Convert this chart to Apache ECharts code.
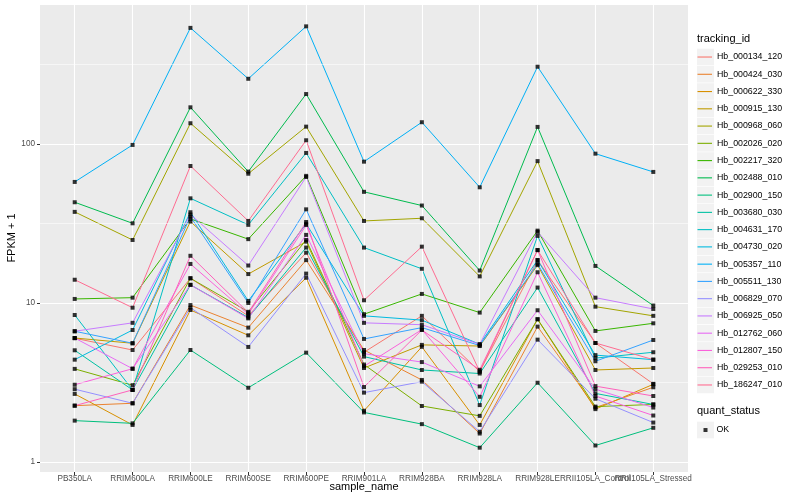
<!DOCTYPE html>
<html><head><meta charset="utf-8">
<script src="https://cdn.jsdelivr.net/npm/echarts@6/dist/echarts.min.js"></script>
<style>html,body{margin:0;padding:0;background:#fff}#c{width:800px;height:500px}</style>
</head><body><div id="c"></div>
<script>
const categories = ['PB350LA','RRIM600LA','RRIM600LE','RRIM600SE','RRIM600PE','RRIM901LA','RRIM928BA','RRIM928LA','RRIM928LE','RRII105LA_Control','RRII105LA_Stressed'];
const trackingIds = ['Hb_000134_120','Hb_000424_030','Hb_000622_330','Hb_000915_130','Hb_000968_060','Hb_002026_020','Hb_002217_320','Hb_002488_010','Hb_002900_150','Hb_003680_030','Hb_004631_170','Hb_004730_020','Hb_005357_110','Hb_005511_130','Hb_006829_070','Hb_006925_050','Hb_012762_060','Hb_012807_150','Hb_029253_010','Hb_186247_010'];

const hb_000134_120 = [6.0, 5.06, 14.3, 8.3, 20.7, 4.9, 8.3, 3.7, 18.6, 5.6, 3.1];
const hb_000424_030 = [2.26, 2.34, 9.7, 7.0, 18.6, 5.06, 3.28, 1.51, 7.1, 2.2, 2.95];
const hb_000622_330 = [2.68, 1.71, 9.03, 6.26, 14.4, 2.1, 5.3, 1.71, 7.9, 2.15, 3.08];
const hb_000915_130 = [6.02, 5.58, 32.5, 15.2, 24.3, 3.9, 5.45, 5.36, 17.3, 3.79, 3.9];
const hb_000968_060 = [37.4, 24.9, 135, 65, 128.5, 32.8, 34.1, 14.7, 78, 9.48, 8.3];
const hb_002026_020 = [3.85, 3.04, 14.3, 8.8, 24.9, 4.1, 2.25, 1.95, 7.9, 2.23, 2.3];
const hb_002217_320 = [10.6, 10.8, 33.8, 25.2, 63, 8.5, 11.4, 8.7, 28.5, 6.67, 7.45];
const hb_002488_010 = [43, 31.7, 170, 67, 206, 50, 41, 16, 128, 17.1, 9.63];
const hb_002900_150 = [1.82, 1.75, 5.06, 2.93, 4.87, 2.05, 1.73, 1.23, 3.15, 1.27, 1.64];
const hb_003680_030 = [5.04, 2.84, 13.0, 8.1, 22.3, 4.6, 3.79, 3.6, 12.5, 2.7, 2.3];
const hb_004631_170 = [8.4, 2.84, 45.5, 31, 87.8, 22.3, 16.4, 2.28, 26.4, 4.5, 4.9];
const hb_004730_020 = [4.4, 6.76, 37.2, 10.3, 31.5, 8.3, 7.8, 5.5, 18.6, 4.7, 4.4];
const hb_005357_110 = [57.7, 98.6, 537, 257, 549, 77.4, 137, 53.4, 306, 86.9, 66.7];
const hb_005511_130 = [6.64, 5.58, 34.9, 10.0, 38.8, 5.94, 7.0, 5.4, 17.6, 4.3, 5.85];
const hb_006829_070 = [2.87, 2.34, 9.34, 5.29, 15.3, 2.73, 3.2, 1.55, 5.88, 2.5, 1.77];
const hb_006925_050 = [6.64, 7.5, 36, 17.2, 62, 7.5, 7.3, 5.5, 28, 10.8, 9.17];
const hb_012762_060 = [6.02, 3.86, 13.0, 8.0, 26.8, 4.8, 4.25, 2.99, 9.0, 2.87, 2.2];
const hb_012807_150 = [3.06, 3.86, 17.6, 8.5, 30.9, 4.0, 6.8, 2.57, 15.6, 2.6, 1.96];
const hb_029253_010 = [2.26, 2.84, 19.8, 8.7, 32.3, 2.96, 6.76, 3.8, 21.5, 3.0, 2.6];
const hb_186247_010 = [14, 9.34, 72.7, 32.8, 105.5, 10.4, 22.6, 3.7, 21.5, 5.6, 4.4];

const seriesValues = [hb_000134_120, hb_000424_030, hb_000622_330, hb_000915_130, hb_000968_060, hb_002026_020, hb_002217_320, hb_002488_010, hb_002900_150, hb_003680_030, hb_004631_170, hb_004730_020, hb_005357_110, hb_005511_130, hb_006829_070, hb_006925_050, hb_012762_060, hb_012807_150, hb_029253_010, hb_186247_010];
const yBreaks = [1, 10, 100];
const yMinorBreaks = [3.1623, 31.623, 316.23];
const quantStatus = ['OK'];

const palette = ['#F8766D','#EA8331','#D89000','#C09B00','#A3A500','#7CAE00','#39B600','#00BB4E','#00BF7D','#00C1A3','#00BFC4','#00BAE0','#00B0F6','#35A2FF','#9590FF','#C77CFF','#E76BF3','#FA62DB','#FF62BC','#FF6C91'];
const FONT = "'Liberation Sans', Arial, sans-serif";

const chart = echarts.init(document.getElementById('c'));
const catIdx = categories.map((c, i) => i);
const evenIdx = catIdx.filter(i => i % 2 === 0);
const oddIdx = catIdx.filter(i => i % 2 === 1);

const lineSeries = trackingIds.map((id, k) => ({
  name: id, type: 'line', data: seriesValues[k].map((v, i) => [i, v]),
  showSymbol: false, symbol: 'none', silent: true, z: 3,
  lineStyle: { width: 1, color: palette[k] }, itemStyle: { color: palette[k] }
}));

const pointData = [];
seriesValues.forEach(arr => arr.forEach((v, i) => pointData.push([i, v])));

const gridSeries = {
  type: 'line', name: '__grid', data: [], silent: true, z: 1,
  markLine: {
    silent: true, symbol: 'none', label: { show: false }, animation: false,
    data: [
      ...catIdx.map(i => ({ xAxis: i, lineStyle: { color: '#FFFFFF', width: 1.1, type: 'solid' } })),
      ...yMinorBreaks.map(v => ({ yAxis: v, lineStyle: { color: '#FFFFFF', width: 0.55, type: 'solid' } }))
    ]
  }
};

const graphics = [];
const legTop = 48.4, legStep = 17.26;
for (let k = 0; k < trackingIds.length; k++) {
  graphics.push({ type: 'rect', shape: { x: 697, y: legTop + legStep * k + 0.3, width: 17, height: 16.6 }, style: { fill: '#F2F2F2' }, z: 0, silent: true });
}
graphics.push({ type: 'rect', shape: { x: 697, y: 421.4 + 0.3, width: 17, height: 16.6 }, style: { fill: '#F2F2F2' }, z: 0, silent: true });
graphics.push({ type: 'text', x: 12, y: 238, rotation: Math.PI / 2, silent: true, z: 10,
  style: { text: 'FPKM + 1', fontSize: 11, fontFamily: FONT, fill: '#000', textAlign: 'center', textVerticalAlign: 'middle' } });
graphics.push({ type: 'text', x: 364, y: 487, silent: true, z: 10,
  style: { text: 'sample_name', fontSize: 11, fontFamily: FONT, fill: '#000', textAlign: 'center', textVerticalAlign: 'middle' } });

function xAxisDef(values) {
  return {
    type: 'value', min: -0.6, max: 10.6, position: 'bottom', offset: 0,
    axisLine: { show: false, onZero: false },
    axisTick: { show: true, length: 3, lineStyle: { color: '#333333', width: 1 }, customValues: values },
    axisLabel: { customValues: values, formatter: v => categories[Math.round(v)] || '', fontSize: 8.2, color: '#4D4D4D', margin: 3, fontFamily: FONT, hideOverlap: false },
    splitLine: { show: false }
  };
}

chart.setOption({
  animation: false,
  backgroundColor: '#FFFFFF',
  textStyle: { fontFamily: FONT },
  title: [
    { text: 'tracking_id', left: 697, top: 33, padding: 0, textStyle: { fontSize: 11, fontWeight: 'normal', color: '#000', fontFamily: FONT } },
    { text: 'quant_status', left: 697, top: 405, padding: 0, textStyle: { fontSize: 11, fontWeight: 'normal', color: '#000', fontFamily: FONT } }
  ],
  grid: { left: 40, top: 5, width: 648, height: 467, show: true, backgroundColor: '#EBEBEB', borderWidth: 0, containLabel: false, outerBoundsMode: 'none' },
  legend: [
    {
      data: trackingIds, orient: 'vertical', left: 697.5, top: legTop, itemGap: 0, padding: 0,
      itemWidth: 14.5, itemHeight: 1.1, icon: 'rect', selectedMode: false,
      textStyle: { fontSize: 8.8, color: '#000', lineHeight: legStep, fontFamily: FONT }
    },
    {
      data: quantStatus, orient: 'vertical', left: 703.5, top: 421.4, itemGap: 0, padding: 0,
      itemWidth: 4, itemHeight: 4, icon: 'rect', selectedMode: false,
      textStyle: { fontSize: 8.8, color: '#000', lineHeight: legStep, fontFamily: FONT, padding: [0, 0, 0, 4] }
    }
  ],
  xAxis: [xAxisDef(evenIdx), xAxisDef(oddIdx)],
  yAxis: {
    type: 'log', logBase: 10, min: 0.865, max: 748,
    axisLine: { show: false, onZero: false },
    axisTick: { show: true, length: 3, lineStyle: { color: '#333333', width: 1 }, customValues: yBreaks },
    axisLabel: { customValues: yBreaks, fontSize: 8.2, color: '#4D4D4D', margin: 5, fontFamily: FONT, formatter: v => String(Math.round(v)) },
    splitLine: { show: true, lineStyle: { color: '#FFFFFF', width: 1.1 } },
    minorTick: { show: false }, minorSplitLine: { show: false }
  },
  graphic: graphics,
  series: [
    gridSeries,
    ...lineSeries,
    {
      name: 'OK', type: 'scatter', data: pointData, symbol: 'rect', symbolSize: 4,
      itemStyle: { color: '#000000' }, z: 5, silent: true
    }
  ]
});
</script>
</body></html>
